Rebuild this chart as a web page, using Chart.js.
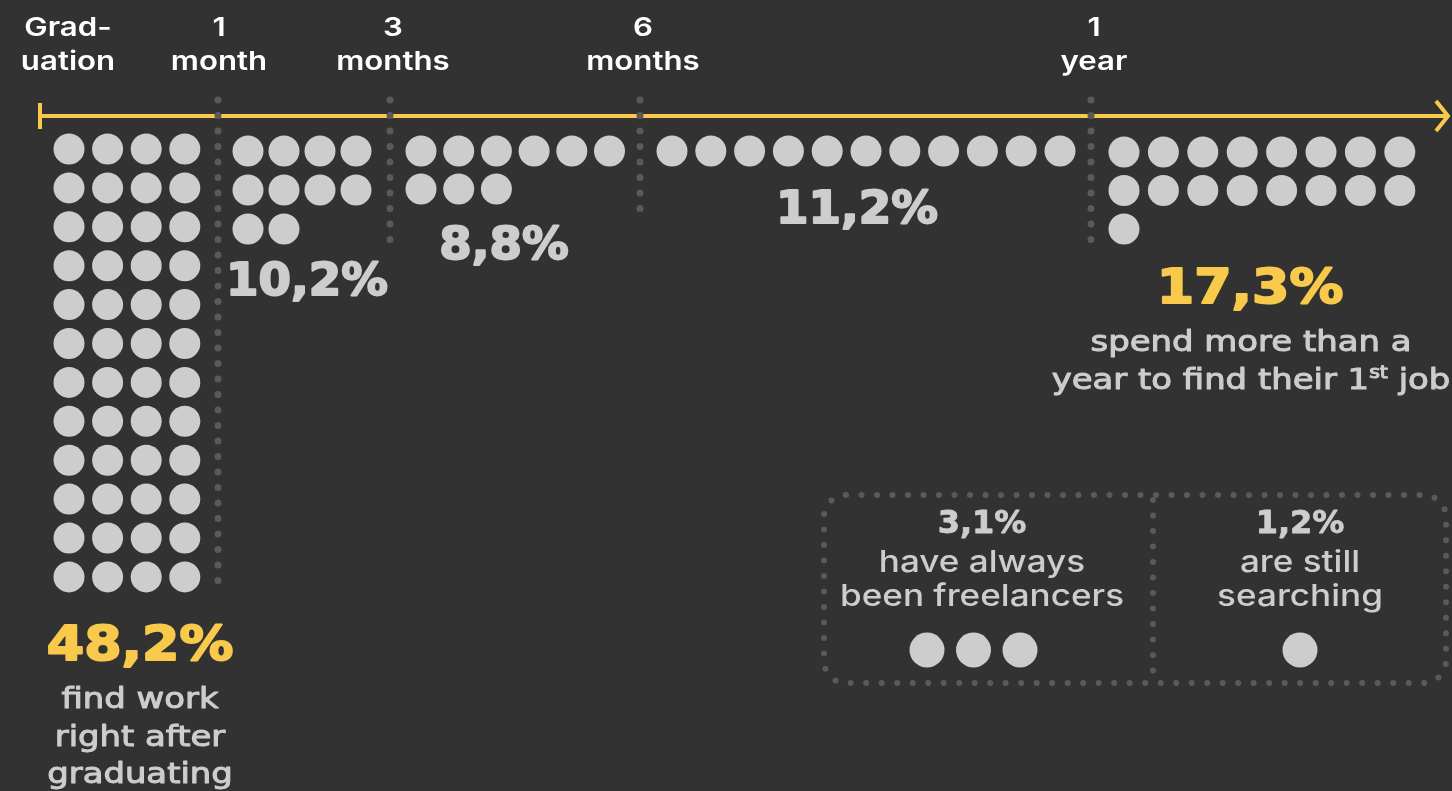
<!DOCTYPE html>
<html>
<head>
<meta charset="utf-8">
<script src="https://cdn.jsdelivr.net/npm/chart.js@4.4.1/dist/chart.umd.min.js"></script>
<style>
    html, body { margin: 0; padding: 0; background: #323232; }
    #wrap { width: 1452px; height: 791px; }
</style>
</head>
<body>
<div id="wrap"><canvas id="myChart" width="1452" height="791"></canvas></div>
<script>
// time after graduation until the first job, share of respondents (%)
const milestones = ["Grad-\nuation", "1\nmonth", "3\nmonths", "6\nmonths", "1\nyear"];
const shares = [48.2, 10.2, 8.8, 11.2, 17.3];
const notes = ["find work\nright after\ngraduating", "", "", "", "spend more than a\nyear to find their 1^st job"];
const otherShares = [3.1, 1.2];
const otherNotes = ["have always\nbeen freelancers", "are still\nsearching"];

// layout (pixels)
const milestoneX = [68, 219, 393, 643, 1094];
const separatorX = [218, 390, 640, 1091];
const separatorEnd = [585, 240, 215, 242];
const groups = [
    { x: 69, y: 149, cols: 4, dx: 38.6, dy: 38.9 },
    { x: 248, y: 151, cols: 4, dx: 36, dy: 39 },
    { x: 421, y: 151, cols: 6, dx: 37.7, dy: 38 },
    { x: 672, y: 151, cols: 11, dx: 38.8, dy: 39 },
    { x: 1124, y: 152, cols: 8, dx: 39.4, dy: 38.5 },
];
const valuePos = [[140, 648], [307, 284], [504, 248], [857, 212], [1250, 291]];
const notePos = [[140, 701], null, null, null, [1251, 344]];
const otherGroups = [
    { x: 927, y: 650, cols: 3, dx: 46.5, dy: 0 },
    { x: 1300, y: 650, cols: 1, dx: 0, dy: 0 },
];
const otherCenterX = [982, 1300];

const YELLOW = "#f8c94b";
const GREY = "#cdcdcd";
const DOT_GREY = "#5a5a5a";

const dotsFor = (share, g) =>
    Array.from({ length: Math.round(share) }, (_, i) => ({
        x: g.x + (i % g.cols) * g.dx,
        y: g.y + Math.floor(i / g.cols) * g.dy,
    }));

const fmt = (v) => v.toString().replace(".", ",") + "%";

// text with optional horizontal stretch and outline to make it heavier
const drawText = (ctx, text, x, y, font, color, stretch = 1, weight = 0) => {
    ctx.save();
    ctx.font = font;
    ctx.fillStyle = color;
    ctx.strokeStyle = color;
    ctx.lineWidth = weight;
    ctx.lineJoin = "round";
    ctx.textAlign = "center";
    ctx.textBaseline = "middle";
    ctx.translate(x, y);
    ctx.scale(stretch, 1);
    ctx.fillText(text, 0, 0);
    if (weight) ctx.strokeText(text, 0, 0);
    ctx.restore();
};

// "1^st" -> superscript st
const drawSupText = (ctx, text, x, y, font, smallFont, color, stretch = 1, weight = 0) => {
    const parts = text.split(/\^(\w+)/);
    ctx.save();
    ctx.fillStyle = color;
    ctx.strokeStyle = color;
    ctx.lineWidth = weight;
    ctx.lineJoin = "round";
    ctx.textBaseline = "middle";
    ctx.textAlign = "left";
    let total = 0;
    parts.forEach((p, i) => {
        ctx.font = i % 2 ? smallFont : font;
        total += ctx.measureText(p).width;
    });
    ctx.translate(x, y);
    ctx.scale(stretch, 1);
    let cx = -total / 2;
    parts.forEach((p, i) => {
        ctx.font = i % 2 ? smallFont : font;
        const dy = i % 2 ? -8 : 0;
        ctx.fillText(p, cx, dy);
        if (weight) ctx.strokeText(p, cx, dy);
        cx += ctx.measureText(p).width;
    });
    ctx.restore();
};

const dottedLine = (x1, y1, x2, y2, width, gap) => ({
    data: [{ x: x1, y: y1 }, { x: x2, y: y2 }],
    showLine: true,
    borderColor: DOT_GREY,
    borderWidth: width,
    borderDash: [0, gap],
    borderCapStyle: "round",
    pointRadius: 0,
});

const datasets = [];
separatorX.forEach((x, i) => datasets.push(dottedLine(x, 100, x, separatorEnd[i], 7, 15.5)));
datasets.push(dottedLine(1153, 500, 1153, 680, 6, 15.5));

// timeline axis
const axisStyle = { showLine: true, borderColor: YELLOW, borderWidth: 4, pointRadius: 0, borderCapStyle: "butt" };
datasets.push({ ...axisStyle, data: [{ x: 40, y: 116 }, { x: 1446, y: 116 }] });
datasets.push({ ...axisStyle, data: [{ x: 40, y: 103 }, { x: 40, y: 129 }] });
datasets.push({ ...axisStyle, data: [{ x: 1436, y: 101 }, { x: 1448, y: 116 }, { x: 1436, y: 131 }], borderJoinStyle: "miter" });

shares.forEach((s, i) => {
    datasets.push({ data: dotsFor(s, groups[i]), backgroundColor: GREY, borderWidth: 0, pointRadius: 15.5, pointHoverRadius: 15.5 });
});
otherShares.forEach((s, i) => {
    datasets.push({ data: dotsFor(s, otherGroups[i]), backgroundColor: GREY, borderWidth: 0, pointRadius: 17.5, pointHoverRadius: 17.5 });
});

const labelsPlugin = {
    id: "labels",
    beforeDatasetsDraw(chart) {
        const ctx = chart.ctx;
        // rounded dotted frame
        ctx.save();
        ctx.strokeStyle = DOT_GREY;
        ctx.lineWidth = 6;
        ctx.lineCap = "round";
        ctx.setLineDash([0, 15.5]);
        ctx.beginPath();
        ctx.roundRect(824, 495, 622, 188, 22);
        ctx.stroke();
        ctx.restore();
    },
    afterDatasetsDraw(chart) {
        const ctx = chart.ctx;
        const xs = chart.scales.x, ys = chart.scales.y;
        milestones.forEach((m, i) => {
            m.split("\n").forEach((line, j) => {
                drawText(ctx, line, xs.getPixelForValue(milestoneX[i]), ys.getPixelForValue(28 + j * 34),
                    "600 26px Inter", "#ffffff", 1.2);
            });
        });
        shares.forEach((s, i) => {
            const [px, py] = valuePos[i];
            const big = i === 0 || i === shares.length - 1;
            drawText(ctx, fmt(s), px, py, big ? "bold 48px 'DejaVu Sans'" : "bold 44px 'DejaVu Sans'",
                big ? YELLOW : GREY, big ? 1.12 : 1.06, 2);
            if (notePos[i]) {
                notes[i].split("\n").forEach((line, j) => {
                    drawSupText(ctx, line, notePos[i][0], notePos[i][1] + j * 37.5,
                        "28px 'DejaVu Sans'", "17px 'DejaVu Sans'", GREY, 1.21, 1);
                });
            }
        });
        otherShares.forEach((s, i) => {
            drawText(ctx, fmt(s), otherCenterX[i], 525, "bold 32px 'DejaVu Sans'", GREY, 1.0, 0.8);
            otherNotes[i].split("\n").forEach((line, j) => {
                drawText(ctx, line, otherCenterX[i], 563 + j * 34, "500 30px Inter", GREY, 1.17);
            });
        });
    },
};

new Chart(document.getElementById("myChart"), {
    type: "scatter",
    data: { datasets: datasets },
    options: {
        responsive: false,
        animation: false,
        devicePixelRatio: 1,
        layout: { padding: 0, autoPadding: false },
        scales: {
            x: { type: "linear", min: 0, max: 1452, display: false },
            y: { type: "linear", min: 0, max: 791, reverse: true, display: false },
        },
        plugins: { legend: { display: false }, tooltip: { enabled: false } },
        events: [],
    },
    plugins: [labelsPlugin],
});
</script>
</body>
</html>
